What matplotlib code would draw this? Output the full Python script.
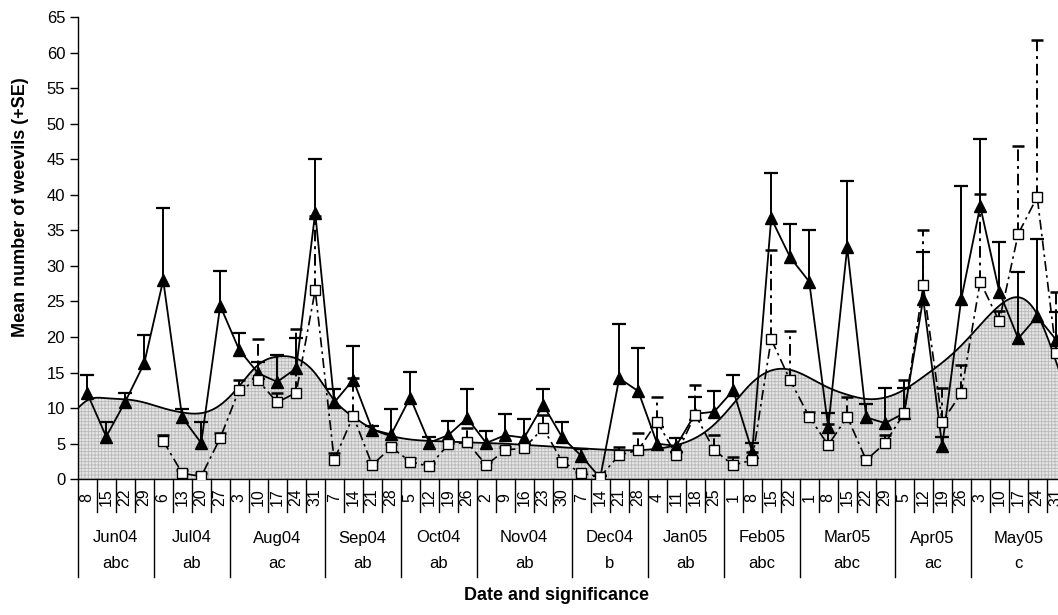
import numpy as np
import matplotlib
matplotlib.use("Agg")
import matplotlib.pyplot as plt
from matplotlib.transforms import blended_transform_factory

plt.rcParams['font.family'] = ['Liberation Sans', 'DejaVu Sans']

# ---------------- data ----------------
months = ['Jun04', 'Jul04', 'Aug04', 'Sep04', 'Oct04', 'Nov04', 'Dec04',
          'Jan05', 'Feb05', 'Mar05', 'Apr05', 'May05']
significance = ['abc', 'ab', 'ac', 'ab', 'ab', 'ab', 'b', 'ab', 'abc', 'abc', 'ac', 'c']
days = [8, 15, 22, 29,
        6, 13, 20, 27,
        3, 10, 17, 24, 31,
        7, 14, 21, 28,
        5, 12, 19, 26,
        2, 9, 16, 23, 30,
        7, 14, 21, 28,
        4, 11, 18, 25,
        1, 8, 15, 22,
        1, 8, 15, 22, 29,
        5, 12, 19, 26,
        3, 10, 17, 24, 31]
days_per_month = [4, 4, 5, 4, 4, 5, 4, 4, 4, 5, 4, 5]

triangle_mean = [12.1, 6.0, 10.9, 16.3, 28.0, 8.7, 5.1, 24.4, 18.2, 14.9, 13.7, 15.6, 37.5,
                 10.8, 14.0, 7.0, 6.3, 11.5, 5.15, 6.2, 8.6, 5.1, 6.2, 5.85, 10.45, 5.9,
                 3.3, 0.2, 14.2, 12.4, 5.0, 4.7, 9.2, 9.5, 12.5, 3.9, 36.7, 31.2, 27.8,
                 7.3, 32.6, 8.7, 7.9, 9.3, 25.4, 4.7, 25.3, 38.4, 26.4, 19.8, 22.9, 19.6]
triangle_se = [2.6, 2.0, 1.2, 4.0, 10.2, 1.15, 2.9, 4.9, 2.4, 1.6, 3.8, 4.3, 7.5,
               1.9, 4.7, 0.5, 3.6, 3.6, 0.85, 2.0, 4.1, 1.7, 3.0, 2.65, 2.25, 2.1,
               1.0, 0.2, 7.6, 6.0, 2.3, 1.1, 2.4, 2.9, 2.2, 1.25, 6.3, 4.7, 7.3,
               2.0, 9.3, 1.9, 5.0, 3.5, 6.5, 1.2, 15.9, 9.4, 7.0, 9.3, 10.9, 3.9]

square_mean = [np.nan, np.nan, np.nan, np.nan, 5.4, 0.85, 0.4, 5.8, 12.6, 13.9, 10.8, 12.2, 26.6,
               2.7, 8.9, 2.0, 4.5, 2.5, 1.8, 4.9, 5.2, 2.0, 4.1, 4.4, 7.2, 2.5,
               0.85, 0.35, 3.4, 4.1, 8.1, 3.4, 9.1, 4.1, 2.0, 2.7, 19.7, 13.9, 8.8,
               4.8, 8.8, 2.7, 5.1, 9.3, 27.3, 8.1, 12.1, 27.8, 22.2, 34.5, 39.7, 17.7]
square_se = [np.nan, np.nan, np.nan, np.nan, 0.8, 0.45, 0.45, 0.7, 1.4, 5.8, 1.4, 8.9, 10.4,
             1.0, 5.3, 0.6, 0.5, 0.5, 0.5, 0.6, 2.0, 0.5, 0.5, 0.6, 1.9, 0.5,
             0.15, 0.25, 1.1, 2.4, 3.5, 0.5, 4.2, 2.1, 1.1, 1.2, 12.5, 6.9, 0.6,
             3.0, 2.8, 0.6, 1.1, 4.7, 7.8, 4.7, 4.0, 12.3, 1.4, 12.3, 22.0, 8.7]

# smoothed trend (read at the left axis edge, each week, and the right axis edge)
trend_left_edge = 10.0
trend_values = [11.1, 11.4, 11.25, 10.8, 10.0, 9.4, 9.3, 10.45, 13.1, 16.1, 17.25, 17.0, 14.9,
                11.15, 8.8, 7.1, 6.1, 5.6, 5.4, 5.3, 5.2, 5.1, 5.0, 4.85, 4.7, 4.5,
                4.35, 4.2, 4.1, 4.1, 4.3, 4.8, 5.8, 7.7, 10.6, 13.6, 15.3, 15.4, 14.3,
                12.9, 11.9, 11.3, 11.5, 12.6, 14.4, 16.4, 18.8, 21.7, 24.4, 25.6, 23.2, 16.5]
trend_right_edge = 12.5


def natural_spline(xk, yk, xs):
    xk = np.asarray(xk, float)
    yk = np.asarray(yk, float)
    n = len(xk)
    h = np.diff(xk)
    A = np.zeros((n, n))
    r = np.zeros(n)
    A[0, 0] = 1.0
    A[-1, -1] = 1.0
    for i in range(1, n - 1):
        A[i, i - 1] = h[i - 1]
        A[i, i] = 2 * (h[i - 1] + h[i])
        A[i, i + 1] = h[i]
        r[i] = 6 * ((yk[i + 1] - yk[i]) / h[i] - (yk[i] - yk[i - 1]) / h[i - 1])
    M = np.linalg.solve(A, r)
    idx = np.clip(np.searchsorted(xk, xs) - 1, 0, n - 2)
    x0, x1 = xk[idx], xk[idx + 1]
    hh = x1 - x0
    a = (x1 - xs) / hh
    b = (xs - x0) / hh
    return (a * yk[idx] + b * yk[idx + 1]
            + ((a ** 3 - a) * M[idx] + (b ** 3 - b) * M[idx + 1]) * hh ** 2 / 6)


# ---------------- figure ----------------
W, H = 1058, 615
fig = plt.figure(figsize=(W / 100, H / 100), dpi=100)
ax_left, ax_right, ax_bottom, ax_top = 77.7, 1065.7, 479.3, 17.0
ax = fig.add_axes([ax_left / W, (H - ax_bottom) / H,
                   (ax_right - ax_left) / W, (ax_bottom - ax_top) / H])

n = len(days)
x = np.arange(n)
ax.set_xlim(-0.5, n - 0.5)
ax.set_ylim(0, 65)

# trend area
kx = np.concatenate([[-0.5], x, [n - 0.5]])
ky = np.concatenate([[trend_left_edge], trend_values, [trend_right_edge]])
xs = np.linspace(-0.5, n - 0.5, 1200)
ys = natural_spline(kx, ky, xs)
plt.rcParams['hatch.linewidth'] = 0.6
ax.fill_between(xs, 0, ys, facecolor='#e6e6e6', edgecolor='#b8b8b8', hatch='+++++',
                linewidth=0, zorder=1)
ax.plot(xs, ys, color='black', lw=1.3, zorder=2)

tm = np.array(triangle_mean)
tse = np.array(triangle_se)
sm = np.array(square_mean)
sse = np.array(square_se)

# triangle series
ax.vlines(x, tm, tm + tse, colors='black', lw=1.4, zorder=3)
ax.plot(x, tm + tse, ls='none', marker='_', ms=10, mew=1.6, color='black', zorder=3)
ax.plot(x, tm, color='black', lw=1.3, marker='^', ms=8.5, mfc='black', mec='black', zorder=4)

# square series
dash = (0, (6, 2.5, 1.5, 2.5))
ax.vlines(x, sm, sm + sse, colors='black', lw=1.4, linestyles=[dash], zorder=5)
ax.plot(x, sm + sse, ls='none', marker='_', ms=9, mew=1.8, color='black', zorder=5)
ax.plot(x, sm, color='black', lw=1.2, ls=dash, marker='s', ms=6.5, mfc='white',
        mec='black', mew=1.0, zorder=6)

# axes styling
for s in ['top', 'right']:
    ax.spines[s].set_visible(False)
ax.spines['left'].set_linewidth(1.0)
ax.spines['bottom'].set_linewidth(1.0)
ax.set_yticks(np.arange(0, 66, 5))
ax.tick_params(axis='y', direction='out', length=6, width=1, labelsize=12, pad=3)
ax.set_xticks([])

# category axis drawn underneath
trans = blended_transform_factory(ax.transData, ax.transAxes)
axh = ax_bottom - ax_top


def ay(py):
    return (ax_bottom - py) / axh


starts = np.concatenate([[0], np.cumsum(days_per_month)])
month_edges = set(starts.tolist())
for b in range(n + 1):
    bottom = 576.7 if b in month_edges else 512.0
    ax.plot([b - 0.5, b - 0.5], [0, ay(bottom)], transform=trans, color='black',
            lw=1.0, clip_on=False)
for i, d in enumerate(days):
    ax.text(i, ay(497.5), str(d), transform=trans, rotation=90, ha='center',
            va='center', fontsize=11.5)
for m in range(len(months)):
    c = (starts[m] + starts[m + 1] - 1) / 2
    ax.text(c, ay(538), months[m], transform=trans, ha='center', va='center', fontsize=12)
    ax.text(c, ay(564), significance[m], transform=trans, ha='center', va='center', fontsize=12)

fig.text(557 / W, (H - 596) / H, 'Date and significance', ha='center', va='center',
         fontsize=13, fontweight='bold')
fig.text(21 / W, (H - 207.5) / H, 'Mean number of weevils (+SE)', ha='center', va='center',
         rotation=90, fontsize=13, fontweight='bold')

fig.savefig('out.png', dpi=100)
